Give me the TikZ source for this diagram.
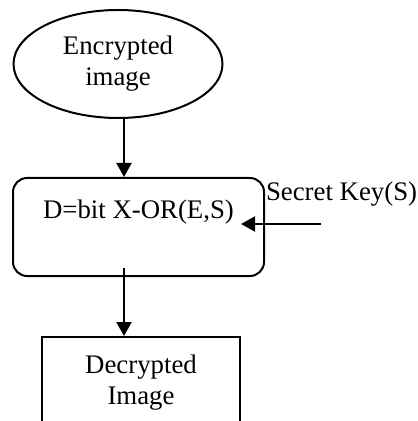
\documentclass[tikz,border=0pt]{standalone}
\usepackage{fontspec}
\setmainfont{Liberation Serif}
\usetikzlibrary{arrows.meta,positioning,calc,shapes.geometric}

\begin{document}
\begin{tikzpicture}[
  font=\fontsize{13.4}{15.5}\selectfont,
  line width=1pt,
  encstep/.style={draw, ellipse, minimum width=104.5pt, minimum height=54pt, inner sep=0pt, align=center},
  xorstep/.style={draw, rounded corners=7pt, minimum width=125.5pt, inner sep=0pt, text height=20.5pt, text depth=28.5pt},
  outstep/.style={draw, minimum width=99pt, minimum height=46pt, inner sep=0pt, align=center},
  ar/.style={-{Triangle[length=7pt, width=7.5pt]}},
]
\useasboundingbox (0,0) rectangle (208.5pt,-210.5pt);
\clip (0,0) rectangle (208.5pt,-210.5pt);
\node[encstep] (enc) at (59pt,-32pt) {Encrypted\\image};
\node[xorstep, below=29pt of enc, xshift=10.25pt] (xor) {D=bit X-OR(E,S)};
\node[outstep, below=29.5pt of xor, xshift=1.25pt] (out) {Decrypted\\Image};
\node[anchor=base west, inner sep=0pt] (key) at ($(xor.north east)+(0,-12pt)$) {Secret Key(S)};
\coordinate (axis) at ([xshift=3pt]enc.south);
\coordinate (keysrc) at ([shift={(28pt,1.5pt)}]xor.east);
\draw[ar] (axis) -- (axis |- xor.north);
\draw[ar] ($(xor.south -| axis)+(0,4.5pt)$) -- (axis |- out.north);
\draw[ar] (keysrc) -- ([shift={(-12pt,1.5pt)}]xor.east);
\end{tikzpicture}
\end{document}
